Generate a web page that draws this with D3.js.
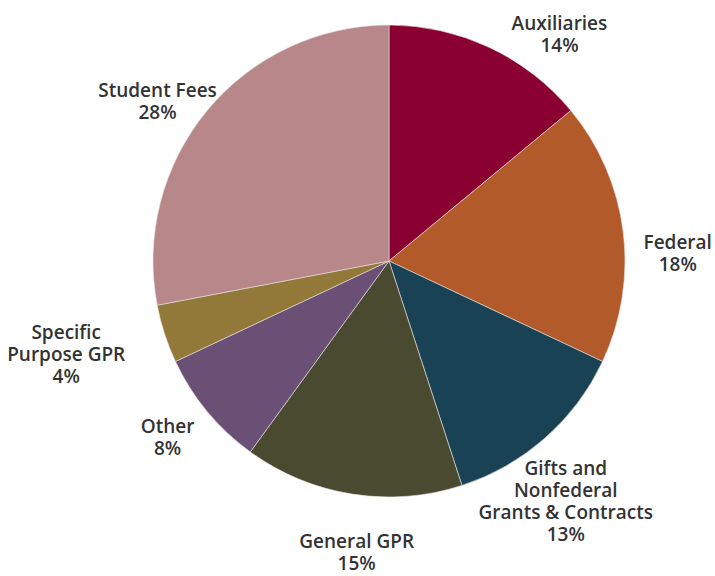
<!DOCTYPE html>
<html>
<head>
<meta charset="utf-8">
<script src="https://cdn.jsdelivr.net/npm/d3@7"></script>
<style>
  body { margin: 0; background: #fff; }
  text { font-family: "Open Sans", sans-serif; font-weight: 600; fill: #333; }
</style>
</head>
<body>
<div id="chart"></div>
<script>
// slices, clockwise from 12 o'clock
var names = ["Auxiliaries", "Federal", "Gifts and Nonfederal Grants & Contracts", "General GPR", "Other", "Specific Purpose GPR", "Student Fees"];
var labelLines = [["Auxiliaries"], ["Federal"], ["Gifts and", "Nonfederal", "Grants & Contracts"], ["General GPR"], ["Other"], ["Specific", "Purpose GPR"], ["Student Fees"]];
var values = [14, 18, 13, 15, 8, 4, 28];
var colors = ["#8a0030", "#b35a2b", "#1a4255", "#4a4a31", "#6a5075", "#937939", "#b7878a"];

var width = 715;
var height = 576;
var cx = 389;
var cy = 261;
var radius = 236;
var labelRadius = 290;
var lineHeight = 22;
// hand nudges so labels sit where the original puts them
var nudge = [[47, 36], [1, 29], [-15, 23], [13, 6], [2, -8], [-47, 4], [-8, 26]];

var data = names.map(function(n, i) { return { name: n, value: values[i], lines: labelLines[i].concat([values[i] + "%"]) }; });

var svg = d3.select("#chart")
  .append("svg")
  .attr("width", width)
  .attr("height", height);

var g = svg.append("g")
  .attr("transform", "translate(" + cx + "," + cy + ")");

var pie = d3.pie()
  .value(function(d) { return d.value; })
  .sort(null);

var arc = d3.arc()
  .innerRadius(0)
  .outerRadius(radius);

var labelArc = d3.arc()
  .innerRadius(labelRadius)
  .outerRadius(labelRadius);

var color = d3.scaleOrdinal().domain(names).range(colors);

g.selectAll("path")
  .data(pie(data))
  .enter()
  .append("path")
  .attr("d", arc)
  .attr("fill", function(d) { return color(d.data.name); })
  .style("stroke", "#e8e0e0")
  .style("stroke-width", 0.6);

var labels = g.selectAll(".label")
  .data(pie(data))
  .enter()
  .append("text")
  .attr("class", "label")
  .attr("text-anchor", "middle")
  .style("font-size", "19px")
  .attr("transform", function(d, i) {
    var c = labelArc.centroid(d);
    return "translate(" + (c[0] + nudge[i][0]) + "," + (c[1] + nudge[i][1]) + ")";
  });

labels.selectAll("tspan")
  .data(function(d) { return d.data.lines; })
  .enter()
  .append("tspan")
  .attr("x", 0)
  .attr("y", function(t, j, nodes) {
    var n = nodes.length;
    return (j - (n - 1) / 2) * lineHeight + 6;
  })
  .text(function(t) { return t; });
</script>
</body>
</html>
